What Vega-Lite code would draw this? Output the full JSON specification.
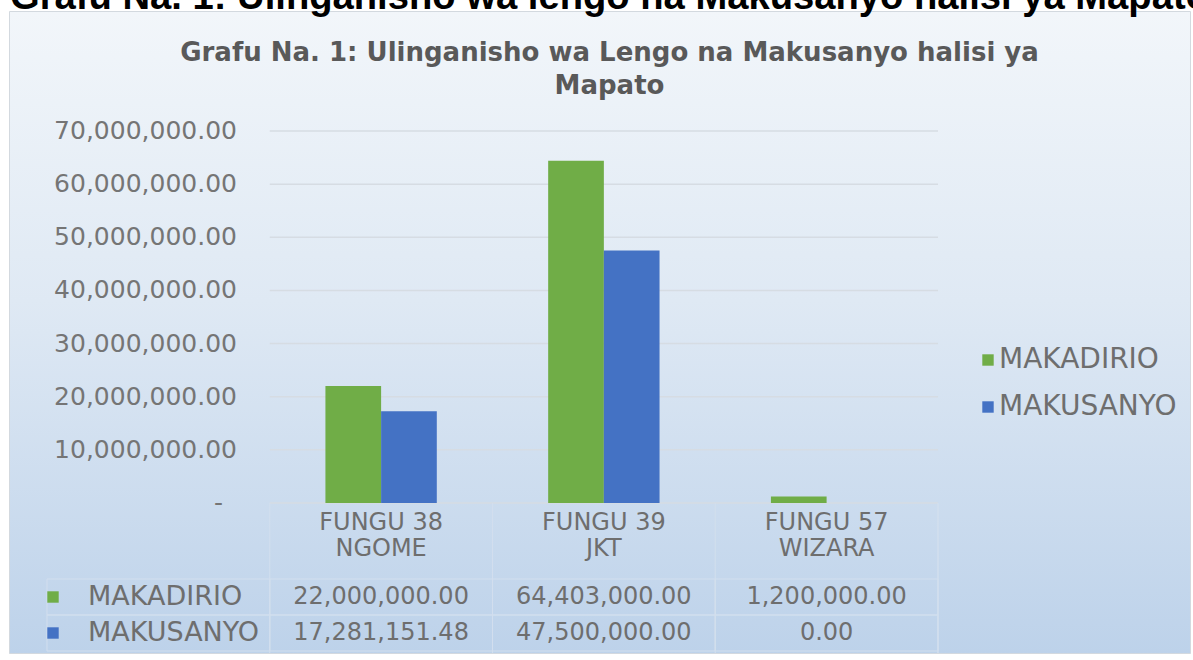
{
  "$schema": "https://vega.github.io/schema/vega-lite/v6.json",
  "width": 1181,
  "height": 642,
  "autosize": {"type": "none"},
  "padding": {"left": 9, "top": 11, "right": 3, "bottom": 7},
  "background": "#ffffff",
  "title": {
    "text": "Grafu Na. 1: Ulinganisho wa lengo na Makusanyo halisi ya Mapato",
    "subtitle": ["Grafu Na. 1: Ulinganisho wa Lengo na Makusanyo halisi ya", "Mapato"],
    "anchor": "middle",
    "frame": "group",
    "font": "Liberation Sans",
    "fontSize": 38.2,
    "fontWeight": "bold",
    "color": "#000000",
    "baseline": "top",
    "dx": 10,
    "subtitleFont": "DejaVu Sans",
    "subtitleFontSize": 26,
    "subtitleFontWeight": "bold",
    "subtitleColor": "#595959",
    "subtitleLineHeight": 33,
    "subtitlePadding": 23,
    "offset": -89
  },
  "config": {
    "view": {
      "fill": {
        "gradient": "linear",
        "x1": 0, "y1": 0, "x2": 0, "y2": 1,
        "stops": [
          {"offset": 0, "color": "#f2f6fa"},
          {"offset": 0.45, "color": "#dfe9f4"},
          {"offset": 1, "color": "#bdd2ea"}
        ]
      },
      "stroke": "#d3d9df",
      "strokeWidth": 1
    },
    "axis": {"disable": true},
    "text": {"font": "DejaVu Sans", "color": "#6e6e6e"}
  },
  "datasets": {
    "data": [
      {"cat": "FUNGU 38\nNGOME", "series": "MAKADIRIO", "value": 22000000},
      {"cat": "FUNGU 38\nNGOME", "series": "MAKUSANYO", "value": 17281151.48},
      {"cat": "FUNGU 39\nJKT", "series": "MAKADIRIO", "value": 64403000},
      {"cat": "FUNGU 39\nJKT", "series": "MAKUSANYO", "value": 47500000},
      {"cat": "FUNGU 57\nWIZARA", "series": "MAKADIRIO", "value": 1200000},
      {"cat": "FUNGU 57\nWIZARA", "series": "MAKUSANYO", "value": 0}
    ],
    "cats": [{"cat": "FUNGU 38\nNGOME"}, {"cat": "FUNGU 39\nJKT"}, {"cat": "FUNGU 57\nWIZARA"}],
    "series": [{"series": "MAKADIRIO"}, {"series": "MAKUSANYO"}],
    "grid": [
      {"v": 0}, {"v": 10000000}, {"v": 20000000}, {"v": 30000000},
      {"v": 40000000}, {"v": 50000000}, {"v": 60000000}, {"v": 70000000}
    ]
  },
  "layer": [
    {
      "layer": [
        {
          "data": {"name": "grid"},
          "mark": {"type": "rule", "color": "#d6dce3", "strokeWidth": 1.5},
          "encoding": {
            "y": {"field": "v", "type": "quantitative", "axis": null},
            "x": {"datum": "FUNGU 38\nNGOME", "type": "nominal", "bandPosition": 0, "axis": null},
            "x2": {"datum": "FUNGU 57\nWIZARA", "bandPosition": 1}
          }
        },
        {
          "data": {"name": "grid"},
          "transform": [{"filter": "datum.v > 0"}],
          "mark": {"type": "text", "fontSize": 25, "align": "right", "baseline": "middle", "color": "#757575"},
          "encoding": {
            "y": {"field": "v", "type": "quantitative", "axis": null},
            "x": {"datum": "HDR", "type": "nominal", "bandPosition": 0.853, "axis": null},
            "text": {"field": "v", "type": "quantitative", "format": ",.2f"}
          }
        },
        {
          "data": {"name": "grid"},
          "transform": [{"filter": "datum.v == 0"}],
          "mark": {"type": "text", "fontSize": 25, "align": "right", "baseline": "middle", "color": "#757575", "dx": -14},
          "encoding": {
            "y": {"field": "v", "type": "quantitative", "axis": null},
            "x": {"datum": "HDR", "type": "nominal", "bandPosition": 0.853, "axis": null},
            "text": {"value": "-"}
          }
        },
        {
          "data": {"name": "cats"},
          "mark": {"type": "rule", "color": "#d2dfee", "strokeWidth": 1},
          "encoding": {
            "x": {"field": "cat", "type": "nominal", "bandPosition": 0, "axis": null},
            "y": {"datum": 0, "type": "quantitative", "axis": null},
            "y2": {"datum": -28227000}
          }
        },
        {
          "data": {"name": "series"},
          "mark": {"type": "rule", "color": "#d2dfee", "strokeWidth": 1},
          "encoding": {
            "x": {"datum": "FUNGU 57\nWIZARA", "type": "nominal", "bandPosition": 1, "axis": null},
            "y": {"datum": 0, "type": "quantitative", "axis": null},
            "y2": {"datum": -28227000}
          }
        },
        {
          "data": {"name": "data"},
          "mark": {"type": "bar"},
          "encoding": {
            "x": {
              "field": "cat",
              "type": "nominal",
              "scale": {
                "type": "band",
                "domain": ["HDR", "FUNGU 38\nNGOME", "FUNGU 39\nJKT", "FUNGU 57\nWIZARA"],
                "paddingInner": 0,
                "paddingOuter": 0.651,
                "align": 0.131
              },
              "axis": null
            },
            "xOffset": {
              "field": "series",
              "type": "nominal",
              "scale": {"type": "band", "paddingInner": 0, "paddingOuter": 1}
            },
            "y": {
              "field": "value",
              "type": "quantitative",
              "scale": {"domain": [-28227000, 92580000], "nice": false, "zero": false},
              "axis": null
            },
            "color": {
              "field": "series",
              "type": "nominal",
              "scale": {"domain": ["MAKADIRIO", "MAKUSANYO"], "range": ["#70ad47", "#4472c4"]},
              "legend": {
                "orient": "none",
                "legendX": 965,
                "legendY": 335,
                "title": null,
                "symbolType": "square",
                "symbolSize": 130,
                "symbolStrokeWidth": 0,
                "labelFont": "DejaVu Sans",
                "labelFontSize": 28,
                "labelColor": "#6e6e6e",
                "labelOffset": -3,
                "labelLimit": 400,
                "rowPadding": 19,
                "padding": 0
              }
            }
          }
        }
      ]
    },
    {
      "layer": [
        {
          "data": {"name": "data"},
          "mark": {"type": "rect", "fill": "transparent", "stroke": "#d2dfee", "strokeWidth": 1},
          "encoding": {
            "x": {"field": "cat", "type": "nominal", "axis": null},
            "y": {
              "field": "series",
              "type": "nominal",
              "scale": {
                "type": "band",
                "domain": ["CAT", "MAKADIRIO", "MAKUSANYO"],
                "range": [532, 640],
                "paddingInner": 0,
                "paddingOuter": 0
              },
              "axis": null
            }
          }
        },
        {
          "data": {"name": "series"},
          "mark": {"type": "rect", "fill": "transparent", "stroke": "#d2dfee", "strokeWidth": 1},
          "encoding": {
            "x": {"datum": "HDR", "type": "nominal", "axis": null},
            "y": {"field": "series", "type": "nominal", "axis": null}
          }
        },
        {
          "data": {"name": "cats"},
          "mark": {"type": "text", "fontSize": 24, "lineBreak": "\n", "lineHeight": 25.5, "baseline": "middle", "dy": -38},
          "encoding": {
            "x": {"field": "cat", "type": "nominal", "axis": null},
            "y": {"datum": "CAT", "type": "nominal", "axis": null},
            "text": {"field": "cat", "type": "nominal"}
          }
        },
        {
          "data": {"name": "data"},
          "mark": {"type": "text", "fontSize": 24, "baseline": "middle"},
          "encoding": {
            "x": {"field": "cat", "type": "nominal", "axis": null},
            "y": {"field": "series", "type": "nominal", "axis": null},
            "text": {"field": "value", "type": "quantitative", "format": ",.2f"}
          }
        },
        {
          "data": {"name": "series"},
          "mark": {"type": "text", "fontSize": 27, "align": "left", "baseline": "middle"},
          "encoding": {
            "x": {"datum": "HDR", "type": "nominal", "bandPosition": 0.184, "axis": null},
            "y": {"field": "series", "type": "nominal", "axis": null},
            "text": {"field": "series", "type": "nominal"}
          }
        },
        {
          "data": {"name": "series"},
          "mark": {"type": "point", "shape": "square", "filled": true, "size": 130, "opacity": 1},
          "encoding": {
            "x": {"datum": "HDR", "type": "nominal", "bandPosition": 0.027, "axis": null},
            "y": {"field": "series", "type": "nominal", "axis": null},
            "color": {"field": "series", "type": "nominal", "legend": null}
          }
        }
      ]
    }
  ],
  "resolve": {
    "scale": {"y": "independent"}
  }
}
